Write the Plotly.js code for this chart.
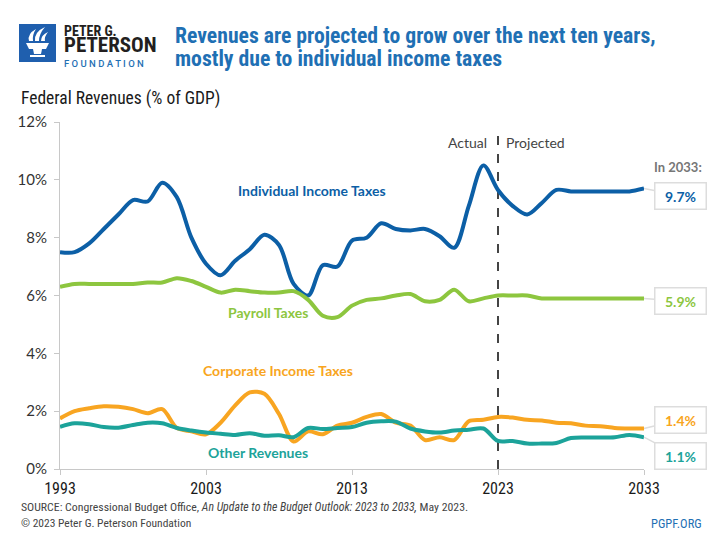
<!DOCTYPE html>
<html>
<head>
<meta charset="utf-8">
<script src="https://cdn.plot.ly/plotly-3.0.1.min.js"></script>
<style>html,body{margin:0;padding:0;background:#fff;}#chart{width:720px;height:540px;}</style>
</head>
<body>
<div id="chart"></div>
<script>
var years = [];
for (var yr = 1993; yr <= 2033; yr++) years.push(yr);

var individualIncome = [7.5, 7.5, 7.8, 8.3, 8.8, 9.3, 9.25, 9.9, 9.4, 8.0,
  7.1, 6.7, 7.2, 7.6, 8.1, 7.75, 6.4, 6.0, 7.05, 7.0,
  7.9, 8.0, 8.5, 8.3, 8.25, 8.3, 8.05, 7.65, 9.1, 10.5,
  9.65, 9.1, 8.8, 9.2, 9.65, 9.6, 9.6, 9.6, 9.6, 9.6, 9.7];
var payroll = [6.3, 6.4, 6.4, 6.4, 6.4, 6.4, 6.45, 6.45, 6.6, 6.5,
  6.3, 6.1, 6.2, 6.15, 6.1, 6.1, 6.15, 5.85, 5.3, 5.25,
  5.65, 5.85, 5.9, 6.0, 6.05, 5.8, 5.85, 6.2, 5.8, 5.9,
  6.0, 6.0, 6.0, 5.9, 5.9, 5.9, 5.9, 5.9, 5.9, 5.9, 5.9];
var corporate = [1.75, 2.0, 2.1, 2.17, 2.15, 2.07, 1.93, 2.07, 1.42, 1.3,
  1.2, 1.6, 2.2, 2.65, 2.6, 1.9, 0.95, 1.3, 1.2, 1.5,
  1.6, 1.8, 1.9, 1.6, 1.5, 1.0, 1.1, 1.0, 1.65, 1.7,
  1.8, 1.78, 1.7, 1.68, 1.6, 1.58, 1.5, 1.48, 1.42, 1.4, 1.4];
var otherRevenues = [1.46, 1.58, 1.55, 1.45, 1.43, 1.52, 1.6, 1.58, 1.42, 1.33,
  1.26, 1.22, 1.18, 1.24, 1.15, 1.17, 1.1, 1.42, 1.38, 1.42,
  1.45, 1.6, 1.65, 1.64, 1.4, 1.3, 1.26, 1.33, 1.36, 1.4,
  0.97, 0.97, 0.88, 0.88, 0.9, 1.07, 1.09, 1.09, 1.1, 1.18, 1.1];

var seriesNames = ["Individual Income Taxes", "Payroll Taxes", "Corporate Income Taxes", "Other Revenues"];
var endLabels = ["9.7%", "5.9%", "1.4%", "1.1%"];
var xTicks = [1993, 2003, 2013, 2023, 2033];
var yTicks = [0, 2, 4, 6, 8, 10, 12];
var yTickText = ["0%", "2%", "4%", "6%", "8%", "10%", "12%"];

var BLUE = "#0c5fa6", GREEN = "#8dc63f", ORANGE = "#f8a521", TEAL = "#1ca39a";
var TITLEBLUE = "#1f70b4";
var NARROW = "'Roboto Condensed', Roboto, sans-serif";
var SANS = "Lato, 'Open Sans', sans-serif";

// plot area pixel geometry
var L = 60, R = 644, T = 122, B = 469;
function px(x) { return (x - L) / (R - L); }
function py(y) { return (B - y) / (B - T); }

function mk(y, name, color) {
  return {x: years, y: y, name: name, type: "scatter", mode: "lines",
    line: {color: color, width: 4, shape: "spline", smoothing: 0.9},
    hoverinfo: "skip"};
}
var data = [mk(individualIncome, seriesNames[0], BLUE), mk(payroll, seriesNames[1], GREEN),
  mk(corporate, seriesNames[2], ORANGE), mk(otherRevenues, seriesNames[3], TEAL)];

function txt(text, x, y, font, xanchor, extra) {
  var a = {text: text, xref: "paper", yref: "paper", x: px(x), y: py(y),
    xanchor: xanchor || "left", yanchor: "middle", showarrow: false, font: font};
  if (extra) for (var k in extra) a[k] = extra[k];
  return a;
}

var logoText = '<span style="font-size:14px;font-weight:bold">PETER G.</span><br>' +
  '<span style="font-size:21px;font-weight:bold">PETERSON</span><br>' +
  '<span style="font-size:9.5px;font-family:Roboto, sans-serif;font-weight:500;fill:' + TITLEBLUE + '">F O U N D A T I O N</span>';

var ann = [
  txt(logoText, 62, 45.5, {family: NARROW, size: 12, color: "#231f20"}, "left", {align: "left"}),
  txt("Revenues are projected to grow over the next ten years,", 173, 35, {family: NARROW, size: 21.7, color: TITLEBLUE, weight: 700}),
  txt("mostly due to individual income taxes", 173, 58, {family: NARROW, size: 21.7, color: TITLEBLUE, weight: 700}),
  txt("Federal Revenues (% of GDP)", 19, 99, {family: NARROW, size: 17.5, color: "#1a1a1a"}),
  txt("Actual", 489, 143, {family: SANS, size: 14, color: "#444"}, "right"),
  txt("Projected", 504, 143, {family: SANS, size: 14, color: "#444"}, "left"),
  txt("In 2033:", 704, 167, {family: SANS, size: 13, color: "#777", weight: 700}, "right"),
  txt(seriesNames[0], 312, 190, {family: SANS, size: 14, color: BLUE, weight: 700}, "center"),
  txt(seriesNames[1], 268, 312, {family: SANS, size: 14, color: GREEN, weight: 700}, "center"),
  txt(seriesNames[2], 278, 370, {family: SANS, size: 14, color: ORANGE, weight: 700}, "center"),
  txt(seriesNames[3], 258, 452, {family: SANS, size: 14, color: TEAL, weight: 700}, "center"),
  txt("SOURCE: Congressional Budget Office, <i>An Update to the Budget Outlook: 2023 to 2033,</i> May 2023.", 19, 507, {family: NARROW, size: 11.8, color: "#444"}),
  txt("© 2023 Peter G. Peterson Foundation", 19, 523, {family: NARROW, size: 11.5, color: "#444"}),
  txt("PGPF.ORG", 704, 523, {family: NARROW, size: 12.5, color: TITLEBLUE}, "right")
];

var endVals = [individualIncome[40], payroll[40], corporate[40], otherRevenues[40]];
var endColors = [BLUE, GREEN, ORANGE, TEAL];
var endOffsets = [7, 3, -9, 19];
for (var i = 0; i < 4; i++) {
  ann.push({x: years[40], y: endVals[i], xref: "x", yref: "y", text: "<b>" + endLabels[i] + "</b>",
    showarrow: true, arrowhead: 0, arrowwidth: 1.5, arrowcolor: "#ddd",
    ax: 36, ay: endOffsets[i], axref: "pixel", ayref: "pixel",
    font: {family: SANS, size: 14, color: endColors[i]},
    bgcolor: "#fff", bordercolor: "#ddd", borderwidth: 1.5, borderpad: 4,
    width: 42, align: "center"});
}

// logo shapes (paper coords from pixel positions)
function pathPx(pts) {
  var s = "";
  for (var j = 0; j < pts.length; j++) {
    var p = pts[j];
    if (typeof p === "string") { s += p + " "; }
    else { s += px(p[0]).toFixed(4) + "," + py(p[1]).toFixed(4) + " "; }
  }
  return s;
}
var shapes = [
  {type: "line", xref: "x", yref: "paper", x0: 2023, x1: 2023, y0: 0, y1: py(133),
    line: {color: "#444", width: 2, dash: "dash"}, layer: "below"},
  {type: "rect", xref: "paper", yref: "paper", x0: px(19), x1: px(56), y0: py(24), y1: py(62),
    fillcolor: "#1f5fae", line: {width: 0}},
  {type: "path", xref: "paper", yref: "paper", fillcolor: "#fff", line: {width: 0},
    path: pathPx(["M", [26, 43], "L", [49, 43], "L", [46, 49], "L", [29, 49], "Z"])},
  {type: "path", xref: "paper", yref: "paper", fillcolor: "#fff", line: {width: 0},
    path: pathPx(["M", [33, 49], "L", [42, 49], "L", [41, 54], "L", [34, 54], "Z"])},
  {type: "path", xref: "paper", yref: "paper", fillcolor: "#fff", line: {width: 0},
    path: pathPx(["M", [30, 55], "L", [45, 55], "L", [45, 57], "L", [30, 57], "Z"])},
  {type: "path", xref: "paper", yref: "paper", fillcolor: "#fff", line: {width: 0},
    path: pathPx(["M", [29, 41], "Q", [27, 34], [36, 29], "Q", [32, 35], [33, 41], "Z"])},
  {type: "path", xref: "paper", yref: "paper", fillcolor: "#fff", line: {width: 0},
    path: pathPx(["M", [35, 41], "Q", [34, 32], [45, 27], "Q", [39, 34], [39, 41], "Z"])},
  {type: "path", xref: "paper", yref: "paper", fillcolor: "#fff", line: {width: 0},
    path: pathPx(["M", [41, 41], "Q", [41, 35], [48, 32], "Q", [44, 37], [45, 41], "Z"])}
];

var layout = {
  width: 720, height: 540,
  margin: {l: L, r: 720 - R, t: T, b: 540 - B},
  paper_bgcolor: "#fff", plot_bgcolor: "#fff",
  showlegend: false,
  xaxis: {range: [1993, 2033], tickvals: xTicks, ticktext: xTicks.map(String),
    showgrid: false, zeroline: false, showline: true, linecolor: "#c8c8c8", linewidth: 1,
    ticks: "outside", ticklen: 5, tickcolor: "#c8c8c8",
    tickfont: {family: NARROW, size: 16, color: "#1a1a1a"}, fixedrange: true},
  yaxis: {range: [0, 12], tickvals: yTicks, ticktext: yTickText,
    showgrid: false, zeroline: false, showline: true, linecolor: "#c8c8c8", linewidth: 1,
    ticks: "outside", ticklen: 5, tickcolor: "#c8c8c8", ticklabelstandoff: 4,
    tickfont: {family: SANS, size: 15, color: "#333"}, fixedrange: true},
  annotations: ann,
  shapes: shapes
};

Plotly.newPlot("chart", data, layout, {displayModeBar: false, staticPlot: true});
</script>
</body>
</html>
